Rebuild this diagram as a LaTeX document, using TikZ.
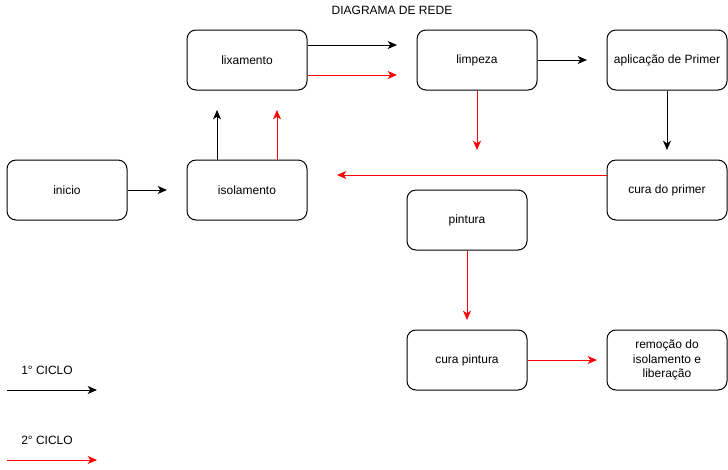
\documentclass[tikz,border=0pt]{standalone}
\usepackage{fontspec}
\setmainfont{Liberation Sans}
\usepackage{tikz}
\usetikzlibrary{arrows.meta, positioning}

\begin{document}
\begin{tikzpicture}[x=0.75pt, y=-0.75pt, font=\fontsize{9}{10.9}\selectfont,
    box/.style={draw, line width=0.75pt, rounded corners=6.75pt, minimum width=90pt, minimum height=45pt, align=center, inner sep=2pt},
    hd/.style={inner sep=0pt},
    blk/.style={draw=black, line width=0.75pt, -{Stealth[length=7pt, width=6pt, inset=2pt]}},
    rd/.style={blk, draw=red}
]
    \useasboundingbox (0,0) rectangle (728,469);
    \node[hd] (titulo) at (392,10) {DIAGRAMA DE REDE};

    \node[box] (inicio) at (67,190) {inicio};
    \node[box] (isolamento) at (247,190) {isolamento};
    \node[box] (lixamento) at (247,60) {lixamento};
    \node[box] (limpeza) at (477,60) {limpeza};
    \node[box] (primer) at (667,60) {aplicação de Primer};
    \node[box] (curaprimer) at (667,190) {cura do primer};
    \node[box] (pintura) at (467,220) {pintura};
    \node[box] (curapintura) at (467,360) {cura pintura};
    \node[box] (remocao) at (667,360) {remoção do\\isolamento e\\liberação};

    \coordinate (t1) at (167,190);
    \coordinate (t2) at (217,110);
    \coordinate (t3) at (277,110);
    \coordinate (t4) at (397,45);
    \coordinate (t5) at (397,75);
    \coordinate (t6) at (587,60);
    \coordinate (t7) at (477,150);
    \coordinate (t8) at (667,150);
    \coordinate (t9) at (337,175);
    \coordinate (t10) at (467,320);
    \coordinate (t11) at (597,360);

    \draw[blk] (inicio) -- (t1);
    \draw[blk] (t2 |- isolamento.north) -- (t2);
    \draw[rd] (t3 |- isolamento.north) -- (t3);
    \draw[blk] (lixamento.east |- t4) -- (t4);
    \draw[rd] (lixamento.east |- t5) -- (t5);
    \draw[blk] (limpeza) -- (t6);
    \draw[rd] (limpeza) -- (t7);
    \draw[blk] (primer) -- (t8);
    \draw[rd] (curaprimer.west |- t9) -- (t9);
    \draw[rd] (pintura) -- (t10);
    \draw[rd] (curapintura) -- (t11);

    % legenda
    \node[hd] (ciclo1) at (47,370) {1° CICLO};
    \node[hd] (ciclo2) at (47,440) {2° CICLO};
    \coordinate (l1a) at (7,390);
    \coordinate (l1b) at (97,390);
    \coordinate (l2a) at (7,460);
    \coordinate (l2b) at (97,460);
    \draw[blk] (l1a) -- (l1b);
    \draw[rd] (l2a) -- (l2b);
\end{tikzpicture}
\end{document}
